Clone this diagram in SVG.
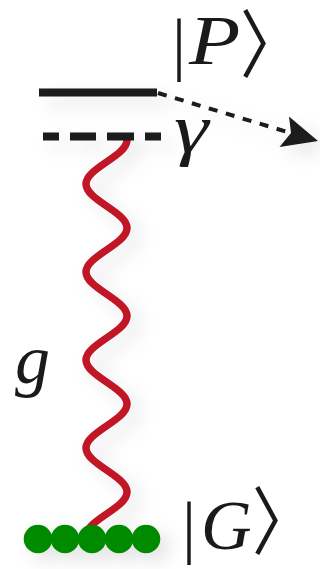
<svg xmlns="http://www.w3.org/2000/svg" width="320" height="569" viewBox="0 0 320 569">
  <defs>
    <filter id="shadow" x="-30%" y="-30%" width="160%" height="160%">
      <feDropShadow dx="9" dy="8" stdDeviation="9" flood-color="#000" flood-opacity="0.11"/>
    </filter>
    <style>
      .lvl { stroke: #1a1a1a; stroke-width: 8; fill: none; }
      .wave { stroke: #c01528; stroke-width: 7.5; fill: none; stroke-linecap: round; }
      .dot { stroke: #1a1a1a; stroke-width: 4; fill: none; stroke-dasharray: 9 8.7; }
      .atom { fill: #008a00; }
      .m { font-family: "Liberation Serif", "DejaVu Serif", serif; font-style: italic; fill: #1a1a1a; font-size: 70px; }
      .b { font-family: "Liberation Serif", "DejaVu Serif", serif; font-style: normal; fill: #1a1a1a; font-size: 70px; }
      .ang { font-family: "DejaVu Sans", "Noto Sans CJK JP", sans-serif; font-style: normal; fill: #1a1a1a; font-size: 74px; }
    </style>
  </defs>
  <rect width="320" height="569" fill="#ffffff"/>
  <g filter="url(#shadow)">
    <g id="connectors">
      <path id="coupling-g" class="wave" d="M127,140 C127,156 86,168 86,184 C86,200 127,212 127,228 C127,244 86,256 86,272 C86,288 127,300 127,316 C127,332 86,344 86,360 C86,376 127,388 127,404 C127,420 86,432 86,448 C86,464 127,476 127,492 C127,508 86,520 86,536"/>
      <g id="decay-gamma">
        <path class="dot" d="M158,93 L289,132.5"/>
        <polygon points="318,141 289,116.5 291,133 279.5,147" fill="#1a1a1a"/>
      </g>
    </g>
    <g id="level-P">
      <path class="lvl" d="M39,92.5 H157"/>
    </g>
    <g id="level-virtual">
      <path class="lvl" d="M43,136.5 H59 M70,136.5 H96 M107,136.5 H134 M145,136.5 H161" stroke-width="7"/>
    </g>
    <g id="ground-G">
      <circle class="atom" cx="38" cy="539" r="14.3"/>
      <circle class="atom" cx="65" cy="539" r="14.3"/>
      <circle class="atom" cx="92" cy="539" r="14.3"/>
      <circle class="atom" cx="119" cy="539" r="14.3"/>
      <circle class="atom" cx="146" cy="539" r="14.3"/>
    </g>
  </g>
  <g id="labels">
    <g id="label-P">
      <text class="b" x="172" y="67">|</text>
      <text class="m" transform="translate(189,64) scale(1.2,1)" x="0" y="0">P</text>
      <text class="ang" transform="translate(240,71) scale(0.85,1)">〉</text>
    </g>
    <text id="label-gamma" class="m" transform="translate(174,152) scale(1.25,1)" font-size="78">γ</text>
    <text id="label-g" class="m" x="15" y="383" font-size="74">g</text>
    <g id="label-G">
      <text class="b" x="182" y="550">|</text>
      <text class="m" x="201" y="549">G</text>
      <text class="ang" transform="translate(252,548) scale(0.85,1)">〉</text>
    </g>
  </g>
</svg>
